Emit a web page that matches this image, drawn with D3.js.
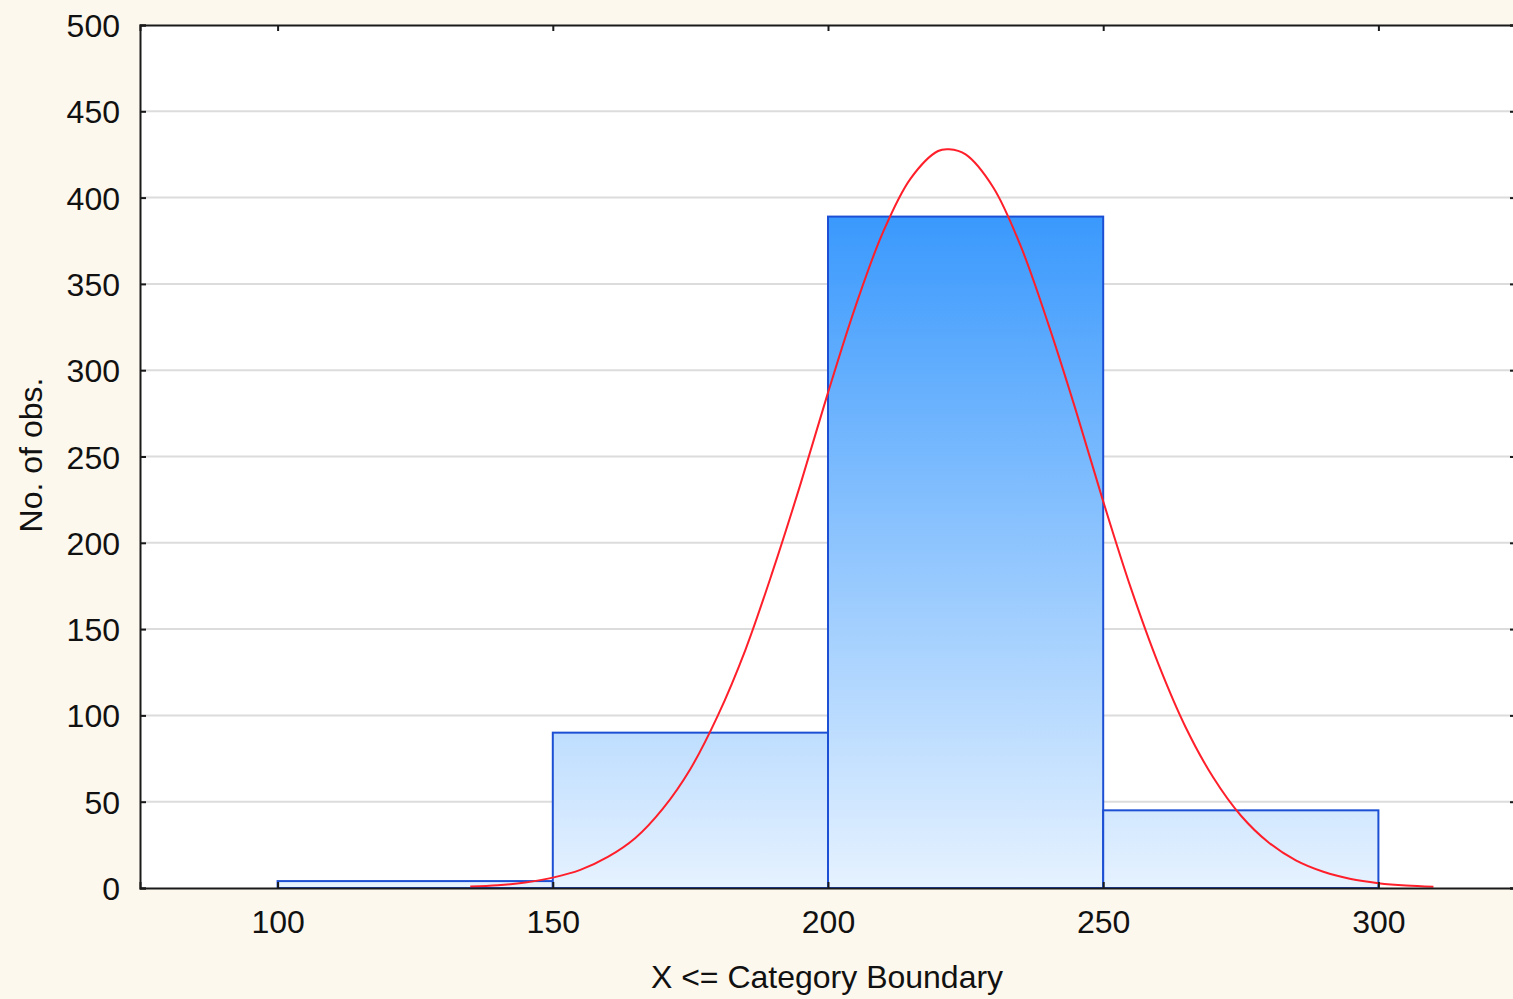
<!DOCTYPE html>
<html>
<head>
<meta charset="utf-8">
<script src="https://cdn.jsdelivr.net/npm/d3@7"></script>
<style>
  html, body { margin: 0; padding: 0; background: #fdf8ed; overflow: hidden; }
  svg { display: block; }
  text { font-family: "Liberation Sans", Arial, sans-serif; fill: #111; }
</style>
</head>
<body>
<svg id="chart" width="1513" height="999"></svg>
<script>
// Histogram bins (upper category boundaries) and observed counts
const binStarts = [100, 150, 200, 250];
const binEnds   = [150, 200, 250, 300];
const counts    = [4, 90, 389, 45];

// Expected normal curve, sampled along x
const curveX = [135, 140, 145, 150, 155, 160, 165, 170, 175, 180, 185, 190, 195, 200,
                205, 210, 215, 220, 222, 225, 230, 235, 240, 245, 250, 255, 260, 265,
                270, 275, 280, 285, 290, 295, 300, 305, 310];
const curveY = [0.8, 1.6, 3.2, 6, 10.5, 18, 29, 46, 69, 100, 138, 184, 234, 287,
                337, 380, 411, 427, 428, 425, 406, 372, 327, 277, 224, 174, 130, 93,
                64, 42, 26.5, 16, 9.4, 5.2, 2.8, 1.4, 0.7];

// Axis ticks
const xTicks = [100, 150, 200, 250, 300];
const yTicks = [0, 50, 100, 150, 200, 250, 300, 350, 400, 450, 500];

const svg = d3.select("#chart");
const plotL = 140, plotT = 25, plotB = 888, plotR = 1516;
const labelSize = 32;

const x = d3.scaleLinear().domain([75, 325]).range([plotL, plotR]);
const y = d3.scaleLinear().domain([0, 500]).range([plotB, plotT]);

// Plot background
svg.append("rect")
  .attr("x", plotL).attr("y", plotT)
  .attr("width", plotR - plotL).attr("height", plotB - plotT)
  .attr("fill", "#ffffff");

// Vertical gradient used by all bars
const defs = svg.append("defs");
const grad = defs.append("linearGradient")
  .attr("id", "barGrad")
  .attr("gradientUnits", "userSpaceOnUse")
  .attr("x1", 0).attr("x2", 0)
  .attr("y1", y(0)).attr("y2", y(d3.max(counts)));
grad.append("stop").attr("offset", "0%").attr("stop-color", "#e6f2ff");
grad.append("stop").attr("offset", "100%").attr("stop-color", "#3a99fd");

// Horizontal grid lines
svg.append("g")
  .selectAll("line")
  .data(yTicks.filter(v => v > 0 && v < 500))
  .join("line")
  .attr("x1", plotL).attr("x2", plotR)
  .attr("y1", d => y(d)).attr("y2", d => y(d))
  .attr("stroke", "#dcdcdc").attr("stroke-width", 2);

// Bars
const bins = counts.map((c, i) => ({ x0: binStarts[i], x1: binEnds[i], n: c }));
svg.append("g")
  .selectAll("rect")
  .data(bins)
  .join("rect")
  .attr("x", d => x(d.x0))
  .attr("y", d => y(d.n))
  .attr("width", d => x(d.x1) - x(d.x0))
  .attr("height", d => y(0) - y(d.n))
  .attr("fill", "url(#barGrad)")
  .attr("stroke", "#1c4fd4")
  .attr("stroke-width", 2);

// Expected normal curve
const pts = curveX.map((v, i) => [v, curveY[i]]);
svg.append("path")
  .datum(pts)
  .attr("fill", "none")
  .attr("stroke", "#ff1f2a")
  .attr("stroke-width", 2)
  .attr("d", d3.line().x(d => x(d[0])).y(d => y(d[1])).curve(d3.curveCatmullRom));

// Axes
const axisColor = "#1a1a1a";
const yAxisL = svg.append("g").attr("transform", `translate(${plotL},0)`)
  .call(d3.axisLeft(y).tickValues(yTicks).tickSize(-6).tickPadding(20));
const yAxisR = svg.append("g").attr("transform", `translate(${plotR},0)`)
  .call(d3.axisRight(y).tickValues(yTicks).tickSize(-6).tickFormat(""));
const xAxisB = svg.append("g").attr("transform", `translate(0,${plotB})`)
  .call(d3.axisBottom(x).tickValues(xTicks).tickSize(-6).tickPadding(22));
const xAxisT = svg.append("g").attr("transform", `translate(0,${plotT})`)
  .call(d3.axisTop(x).tickValues(xTicks).tickSize(-6).tickFormat(""));

[yAxisL, yAxisR, xAxisB, xAxisT].forEach(g => {
  g.select(".domain").attr("stroke", axisColor).attr("stroke-width", 2);
  g.selectAll(".tick line").attr("stroke", axisColor).attr("stroke-width", 2);
  g.selectAll(".tick text")
    .attr("font-family", "'Liberation Sans', Arial, sans-serif")
    .attr("font-size", labelSize).attr("fill", "#111");
});
yAxisL.selectAll(".tick text").attr("dy", "0.36em");

// Axis titles
svg.append("text")
  .attr("x", 827).attr("y", 988)
  .attr("text-anchor", "middle")
  .attr("font-size", labelSize)
  .text("X <= Category Boundary");

svg.append("text")
  .attr("transform", "translate(42,455) rotate(-90)")
  .attr("text-anchor", "middle")
  .attr("font-size", labelSize)
  .text("No. of obs.");
</script>
</body>
</html>
